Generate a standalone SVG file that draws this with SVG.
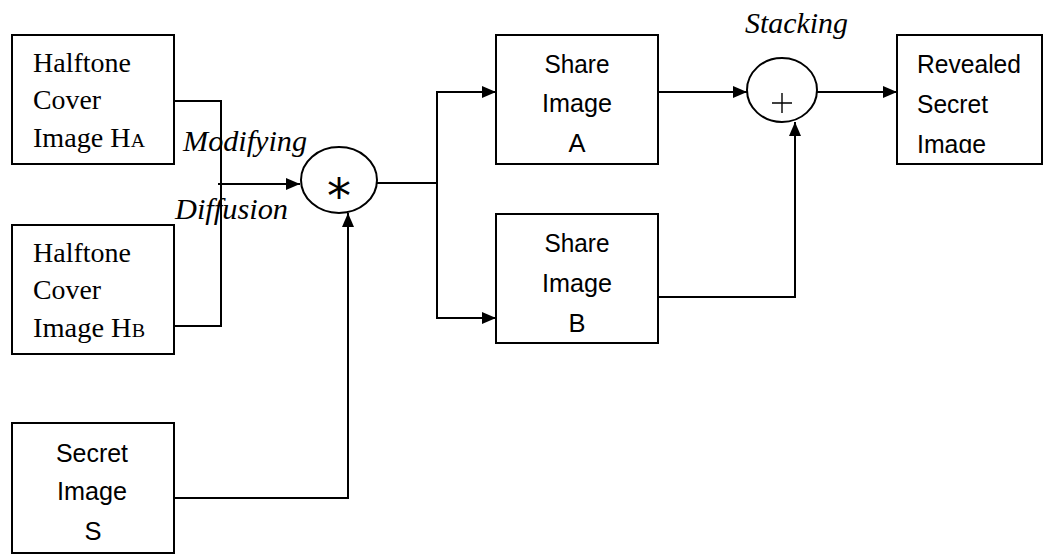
<svg xmlns="http://www.w3.org/2000/svg" width="1052" height="554" viewBox="0 0 1052 554">
  <style>
    .box { fill: #fff; stroke: #000; stroke-width: 2; }
    .op { fill: #fff; stroke: #000; stroke-width: 2; }
    .wire { fill: none; stroke: #000; stroke-width: 2; }
    .serif { font-family: "Liberation Serif", "Times New Roman", serif; font-size: 27px; fill: #000; }
    .sans { font-family: "Liberation Sans", Arial, sans-serif; font-size: 25.5px; fill: #000; }
    .lbl { font-family: "Liberation Serif", "Times New Roman", serif; font-style: italic; font-size: 29px; fill: #000; }
    .sym { font-family: "DejaVu Sans", sans-serif; fill: #000; }
  </style>
  <defs>
    <marker id="arrow" viewBox="0 0 14 12" refX="14" refY="6" markerWidth="14" markerHeight="12" markerUnits="userSpaceOnUse" orient="auto">
      <path d="M0,0 L14,6 L0,12 Z" fill="#000"/>
    </marker>
    <clipPath id="revealClip">
      <rect x="897" y="35" width="145" height="118"/>
    </clipPath>
  </defs>

  <!-- connectors -->
  <g id="connectors">
    <polyline class="wire" points="174,101 221,101 221,326 172,326"/>
    <line class="wire" x1="218" y1="184" x2="300" y2="184" marker-end="url(#arrow)"/>
    <polyline class="wire" points="174,498 348,498 348,213" marker-end="url(#arrow)"/>
    <line class="wire" x1="377" y1="183" x2="437" y2="183"/>
    <polyline class="wire" points="496,92 437,92 437,318 496,318" />
    <line class="wire" x1="437" y1="92" x2="496" y2="92" marker-end="url(#arrow)"/>
    <line class="wire" x1="437" y1="318" x2="496" y2="318" marker-end="url(#arrow)"/>
    <line class="wire" x1="658" y1="92" x2="747" y2="92" marker-end="url(#arrow)"/>
    <polyline class="wire" points="658,297 795,297 795,122" marker-end="url(#arrow)"/>
    <line class="wire" x1="817" y1="92" x2="897" y2="92" marker-end="url(#arrow)"/>
  </g>

  <!-- halftone cover image A -->
  <g id="cover-a">
    <rect class="box" x="12" y="35" width="162" height="129"/>
    <text class="serif" x="33" y="72" textLength="98" lengthAdjust="spacingAndGlyphs">Halftone</text>
    <text class="serif" x="33" y="109" textLength="68" lengthAdjust="spacingAndGlyphs">Cover</text>
    <text class="serif" x="33" y="147" textLength="112" lengthAdjust="spacingAndGlyphs">Image H<tspan font-size="19">A</tspan></text>
  </g>

  <!-- halftone cover image B -->
  <g id="cover-b">
    <rect class="box" x="12" y="225" width="162" height="129"/>
    <text class="serif" x="33" y="262" textLength="98" lengthAdjust="spacingAndGlyphs">Halftone</text>
    <text class="serif" x="33" y="299" textLength="68" lengthAdjust="spacingAndGlyphs">Cover</text>
    <text class="serif" x="33" y="337" textLength="112" lengthAdjust="spacingAndGlyphs">Image H<tspan font-size="19">B</tspan></text>
  </g>

  <!-- secret image -->
  <g id="secret">
    <rect class="box" x="12" y="423" width="162" height="130"/>
    <text class="sans" x="92" y="462" text-anchor="middle" textLength="72" lengthAdjust="spacingAndGlyphs">Secret</text>
    <text class="sans" x="92" y="500" text-anchor="middle" textLength="70" lengthAdjust="spacingAndGlyphs">Image</text>
    <text class="sans" x="93" y="540" text-anchor="middle">S</text>
  </g>

  <!-- modifying diffusion operator -->
  <g id="diffusion-op">
    <ellipse class="op" cx="339" cy="180" rx="38" ry="33"/>
    <text class="sym" x="339" y="213" font-size="48" text-anchor="middle">*</text>
  </g>

  <!-- share A -->
  <g id="share-a">
    <rect class="box" x="496" y="35" width="162" height="129"/>
    <text class="sans" x="577" y="73" text-anchor="middle" textLength="65" lengthAdjust="spacingAndGlyphs">Share</text>
    <text class="sans" x="577" y="112" text-anchor="middle" textLength="70" lengthAdjust="spacingAndGlyphs">Image</text>
    <text class="sans" x="577" y="152" text-anchor="middle">A</text>
  </g>

  <!-- share B -->
  <g id="share-b">
    <rect class="box" x="496" y="214" width="162" height="129"/>
    <text class="sans" x="577" y="252" text-anchor="middle" textLength="65" lengthAdjust="spacingAndGlyphs">Share</text>
    <text class="sans" x="577" y="292" text-anchor="middle" textLength="70" lengthAdjust="spacingAndGlyphs">Image</text>
    <text class="sans" x="577" y="332" text-anchor="middle">B</text>
  </g>

  <!-- stacking operator -->
  <g id="stacking-op">
    <ellipse class="op" cx="782" cy="90" rx="35" ry="32"/>
    <path d="M772,103 H792 M782,93 V113" stroke="#000" stroke-width="1.4" fill="none"/>
  </g>

  <!-- revealed secret image -->
  <g id="revealed">
    <rect class="box" x="897" y="35" width="145" height="129"/>
    <g clip-path="url(#revealClip)">
      <text class="sans" x="917" y="73" textLength="104" lengthAdjust="spacingAndGlyphs">Revealed</text>
      <text class="sans" x="917" y="113" textLength="71" lengthAdjust="spacingAndGlyphs">Secret</text>
      <text class="sans" x="917" y="153" textLength="69" lengthAdjust="spacingAndGlyphs">Image</text>
    </g>
  </g>

  <!-- process labels -->
  <g id="labels">
    <text class="lbl" x="183" y="151" textLength="124" lengthAdjust="spacingAndGlyphs">Modifying</text>
    <text class="lbl" x="175" y="219" textLength="113" lengthAdjust="spacingAndGlyphs">Diffusion</text>
    <text class="lbl" x="745" y="33" textLength="103" lengthAdjust="spacingAndGlyphs">Stacking</text>
  </g>
</svg>
